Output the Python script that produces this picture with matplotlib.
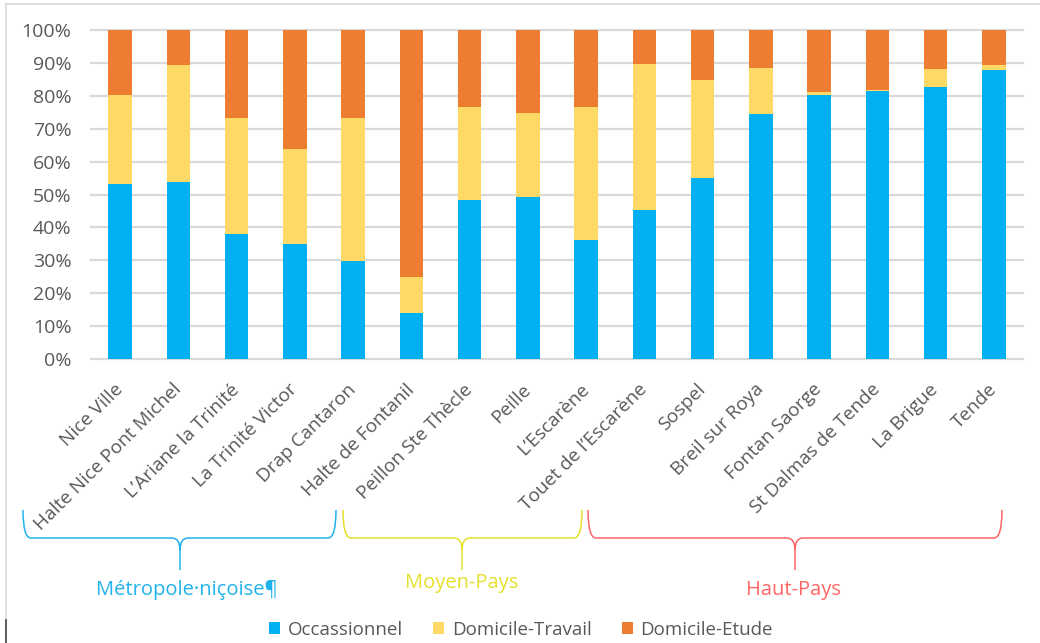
import matplotlib
matplotlib.use("Agg")
import matplotlib.pyplot as plt
from matplotlib.path import Path
from matplotlib.patches import PathPatch, Patch
from matplotlib.lines import Line2D

plt.rcParams['font.family'] = ['Open Sans', 'DejaVu Sans']

# Stations and share of trips by purpose (fractions)
stations = ["Nice Ville", "Halte Nice Pont Michel", "L’Ariane la Trinité", "La Trinité Victor",
            "Drap Cantaron", "Halte de Fontanil", "Peillon Ste Thècle", "Peille", "L’Escarène",
            "Touet de l’Escarène", "Sospel", "Breil sur Roya", "Fontan Saorge",
            "St Dalmas de Tende", "La Brigue", "Tende"]
occasionnel = [0.531, 0.538, 0.379, 0.350, 0.298, 0.139, 0.483, 0.493, 0.362,
               0.453, 0.549, 0.745, 0.803, 0.816, 0.826, 0.877]
domicile_travail = [0.272, 0.355, 0.354, 0.287, 0.435, 0.111, 0.284, 0.255, 0.405,
                    0.443, 0.299, 0.139, 0.009, 0.002, 0.055, 0.016]
domicile_etude = [1 - a - b for a, b in zip(occasionnel, domicile_travail)]
series_names = ["Occassionnel", "Domicile-Travail", "Domicile-Etude"]
series_colors = ["#00B0F0", "#FFD966", "#ED7D31"]
y_ticks = [i / 10 for i in range(11)]
y_labels = [f"{i * 10}%" for i in range(11)]

# Station groups: (label, first index, last index, colour)
groups = [("Métropole·niçoise¶", 0, 5, "#1FB3EC"),
          ("Moyen-Pays", 6, 9, "#E4E02C"),
          ("Haut-Pays", 10, 15, "#FF6666")]

W, H = 1040, 643
fig = plt.figure(figsize=(W / 100, H / 100), dpi=100)
fig.patch.set_facecolor("white")

def fx(x):
    return x / W

def fy(y):
    return 1 - y / H

ax = fig.add_axes([fx(91), fy(359), fx(1023) - fx(91), fy(30) - fy(359)])
x = list(range(len(stations)))
bw = 0.40
ax.bar(x, occasionnel, bw, color=series_colors[0], zorder=3)
ax.bar(x, domicile_travail, bw, bottom=occasionnel, color=series_colors[1], zorder=3)
bottoms = [a + b for a, b in zip(occasionnel, domicile_travail)]
ax.bar(x, domicile_etude, bw, bottom=bottoms, color=series_colors[2], zorder=3)

ax.set_xlim(-0.5, len(stations) - 0.5)
ax.set_ylim(0, 1)
ax.set_yticks(y_ticks)
ax.set_yticklabels(y_labels)
for t in y_ticks:
    ax.axhline(t, color="#D9D9D9", lw=1.6, zorder=1, clip_on=False)
for s in ax.spines.values():
    s.set_visible(False)
ax.tick_params(axis="both", length=0, colors="#595959", labelsize=14)
ax.tick_params(axis="y", pad=14)
ax.tick_params(axis="x", pad=20, labelsize=13.7)
ax.set_xticks(x)
ax.set_xticklabels(stations, rotation=45, ha="right", va="center",
                   rotation_mode="anchor")

# Curly braces under each group of stations
def brace(x0, x1, xc, color, ytop=510, ymid=538, ybot=570, r=8):
    verts = [
        (x0, ytop), (x0, ymid), (x0 + r, ymid),
        (xc - r, ymid), (xc, ymid), (xc, ymid + 12),
        (xc, ybot),
        (xc, ymid + 12), (xc, ymid), (xc + r, ymid),
        (x1 - r, ymid), (x1, ymid), (x1, ytop),
    ]
    codes = [Path.MOVETO, Path.CURVE3, Path.CURVE3,
             Path.LINETO, Path.CURVE3, Path.CURVE3,
             Path.LINETO,
             Path.MOVETO, Path.CURVE3, Path.CURVE3,
             Path.LINETO, Path.CURVE3, Path.CURVE3]
    p = Path([(fx(a), fy(b)) for a, b in verts], codes)
    fig.add_artist(PathPatch(p, transform=fig.transFigure, fill=False,
                             edgecolor=color, lw=1.1))

brace(23, 336, 180, groups[0][3])
brace(343, 582, 462, groups[1][3])
brace(588, 1002, 795, groups[2][3])

fig.text(fx(187), fy(590), groups[0][0], color=groups[0][3], fontsize=14.5,
         ha="center", va="center")
fig.text(fx(462), fy(583), groups[1][0], color=groups[1][3], fontsize=14.5,
         ha="center", va="center")
fig.text(fx(793), fy(590), groups[2][0], color=groups[2][3], fontsize=14.5,
         ha="center", va="center")

# Legend
handles = [Patch(facecolor=c, edgecolor="none") for c in series_colors]
fig.legend(handles, series_names, loc="center", bbox_to_anchor=(fx(521), fy(630)),
           ncol=3, frameon=False, fontsize=13.5, labelcolor="#595959",
           handlelength=0.6, handleheight=0.6, handletextpad=0.4,
           columnspacing=1.6)

# Thin frame around the chart area
fig.add_artist(Line2D([fx(6), fx(1040)], [fy(4), fy(4)], color="#D9D9D9", lw=1.2,
                      transform=fig.transFigure))
fig.add_artist(Line2D([fx(6), fx(6)], [fy(4), fy(620)], color="#D9D9D9", lw=1.2,
                      transform=fig.transFigure))
fig.add_artist(Line2D([fx(6), fx(6)], [fy(620), fy(643)], color="#404040", lw=1.2,
                      transform=fig.transFigure))

fig.savefig("out.png", dpi=100, facecolor="white")
